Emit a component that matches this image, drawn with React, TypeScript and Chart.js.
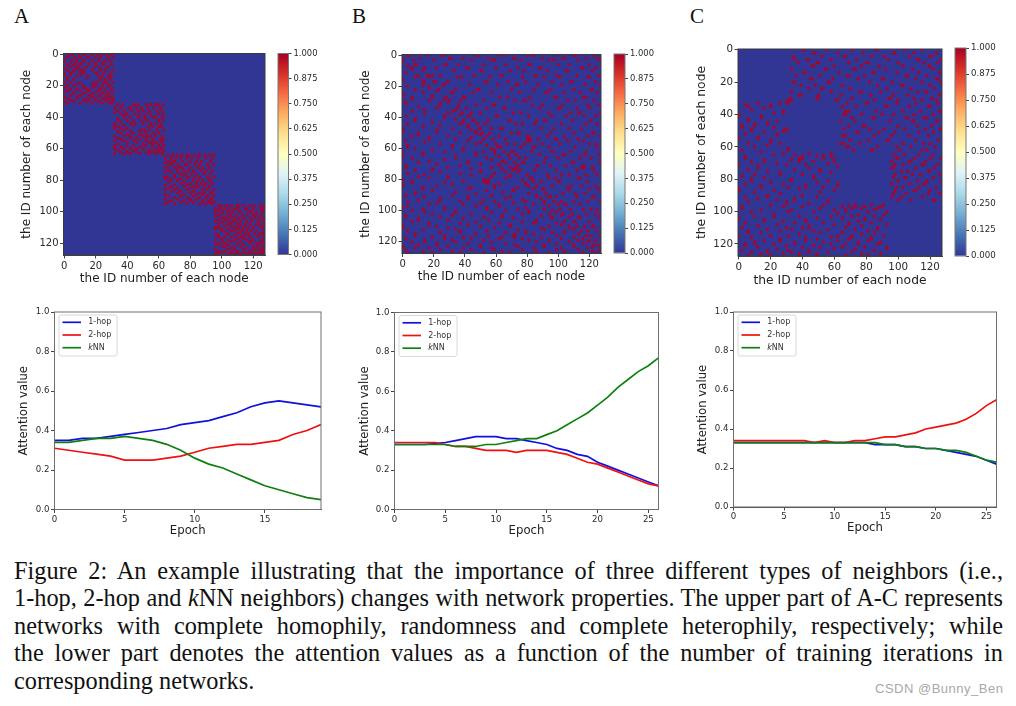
import React, { useEffect, useRef } from "react";
import { Chart, registerables } from "chart.js";

Chart.register(...registerables);

// ---------- heatmap data: [row, col, col, ...] for the upper triangle of each adjacency matrix
const heatRowsA: number[][] = [
  [0,3,5,9,12,13,18,21,24,27,30],[2,2,7,10,15,16,20,23,28,31],[4,5,8,12,13,18,22,26,29],[6,7,10,11,16,20,24,25,30],
  [8,9,14,19,22,27,28],[10,11,13,18,23,26,31],[12,12,20,21,25,29],[14,15,22,24,28,30],[16,23,26,29],[18,19,21,25,27,31],
  [20,20,24,28,29],[22,23,26,30],[24,25,28,31],[26,27,29],[28,29,31],[30,31],
  [32,34,37,44,46,47,52,55,58,60,63],[34,36,41,42,46,49,53,57,61],[36,38,43,47,50,54,59,62],[38,39,40,45,48,52,55,60,63],
  [40,42,47,51,56,58,62],[42,44,49,52,53,60,63],[44,45,50,55,58,61],[46,53,56,60,62],[48,49,51,54,59,63],[50,52,57,60],
  [52,53,55,58,62],[54,56,61,63],[56,57,59,62],[58,60,63],[60,61,62],[62,63],
  [64,66,69,72,75,78,79,83,86,89,92,95],[66,68,71,74,78,81,85,90,94],[68,69,70,75,80,84,87,93],[70,72,77,78,83,86,91,95],
  [72,73,75,80,85,88,92],[74,76,79,82,87,90,94],[76,77,81,84,89,93],[78,79,83,86,91,95],[80,82,85,88,92,93],[82,84,87,90,94],
  [84,85,89,92],[86,88,91,95],[88,89,93,94],[90,91,95],[92,93,94],[94,95],
  [96,98,100,103,106,110,111,114,118,121,124,127],[98,99,102,105,108,110,115,116,120,125,126],[100,101,104,107,111,112,117,119,122,126],
  [102,104,106,109,113,116,120,122,125],[104,105,108,111,114,118,121,124,127],[106,107,109,112,116,119,123,126],
  [108,110,112,115,118,122,124,127],[110,111,114,117,120,125,126],[112,113,116,119,122,127],[114,115,117,121,124,126],
  [116,118,123,127],[118,119,120,125,126],[120,122,124,127],[122,123,126],[124,125,127],[126,127],
];
const heatRowsB: number[][] = [
  [0,3,4,16,25,26,47,49,62,65,80,83,84,98,110,111,123],[2,11,30,31,39,55,71,72,90,103,104,118,125],[3,7,20,44,58,59,76,94,97,113,127],
  [6,8,9,27,28,36,52,66,81,82,100,107,120],[8,14,22,41,42,60,74,88,89,115,116,124],[10,13,33,50,51,69,78,93,105,106,122],
  [13,16,19,24,46,63,64,85,86,99,112,126],[14,17,35,38,56,77,91,101,119,120],[17,20,21,29,53,54,68,79,96,108,109,124],
  [19,26,27,43,61,73,74,87,102,117,127],[22,23,34,48,49,70,84,95,110,121,122],[24,31,32,45,57,75,92,93,104,114,125],
  [27,28,39,40,62,67,82,98,99,116,118],[29,30,37,52,72,78,79,106,111,123],[32,36,47,58,59,83,90,103,119,126],
  [34,35,41,54,65,66,88,100,101,112,120],[37,38,44,50,71,76,94,108,113,114,127],[39,42,43,60,61,81,96,105,117,124],
  [42,45,46,55,68,69,86,91,92,109,121],[44,48,53,73,77,85,102,118,125],[47,49,50,57,63,64,89,97,107,115],
  [50,51,56,70,74,75,95,110,122,123],[52,54,62,80,81,93,104,119,127],[54,58,66,81,82,87,98,99,113],[55,80,81,82,106,116],
  [57,60,67,72,78,90,101,120,124],[59,61,63,76,84,85,94,111,125],[62,65,70,71,83,96,97,108,118],[64,68,73,88,103,104,117,126],
  [66,69,75,79,92,100,114,121],[69,72,77,78,91,109,110,127],[71,74,86,87,95,105,116],[72,73,115,116,117,122],[74,75,85,99,112,123],
  [77,80,93,102,107,118,125],[79,82,83,94,98,113,114],[81,84,89,100,101,119],[84,86,96,108,115,124],[86,90,91,106,107,120,126],
  [89,92,103,111,117],[91,94,95,99,112,122,123],[94,97,102,110,119,127],[96,100,104,105,114],[99,101,108,116,121,125],
  [102,103,109,118,124],[104,107,113,114,126],[107,110,111,120],[110,112,117,122,123],[113,115,119,125],[116,118,121,127],
  [119,120,124],[122,123,126],[125,127],
];
const heatRowsC: number[][] = [
  [0,40,41,55,71,86,87,104,115],[2,47,48,62,78,97,98,110,124],[4,34,52,66,67,83,91,107,120,121],[6,35,43,44,58,74,94,112,113,127],
  [8,37,49,50,69,80,81,100,116,125],[10,46,47,60,77,88,103,119,120],[12,33,54,55,72,73,92,109,122],[14,41,42,63,84,85,99,113,126],
  [16,36,51,68,69,79,105,106,118],[18,45,46,59,75,90,91,111,124,125],[20,34,35,56,57,82,96,115,127],[22,39,48,65,87,102,103,120],
  [24,44,52,53,70,93,108,123],[26,33,58,76,77,89,112,117,118],[28,38,39,50,64,83,97,106,126],[30,32,49,50,71,94,95,110,121],
  [31,32,33,61,62,85,100,115,124],
  [33,68,80,81,99,111,125],[35,65,74,92,93,107,119,120],[38,67,68,69,86,103,114,126,127],[40,66,67,77,90,97,110,122],
  [42,71,84,85,105,106,116,118],[44,64,73,95,109,110,124,125],[47,69,78,79,100,112,121],[49,66,82,91,104,117,126,127],
  [51,74,75,88,98,113,122],[53,65,67,85,96,107,119],[56,70,81,93,94,111,125],[58,64,66,76,103,116,120],[60,68,69,87,99,108,123],
  [62,72,83,84,101,115,118],
  [65,97,104,113,122],[67,99,100,110,120,127],[69,96,107,108,117],[71,98,103,115,116,125],[73,96,97,111,123],[75,102,106,119,120],
  [77,98,109,114,126],[79,97,104,105,122],[81,100,112,118,127],[83,96,107,116,117],[85,99,103,113,124],[87,98,110,111,120],
  [89,97,105,119,126],[91,96,102,115],[93,100,108,122,123],
];
const heatTicks = [0, 20, 40, 60, 80, 100, 120];
const heatAxisTitle = "the ID number of each node";
const colorStops = ["#313695","#4575b4","#74add1","#abd9e9","#e0f3f8","#ffffbf","#fee090","#fdae61","#f46d43","#d73027","#a50026"];

// ---------- line chart data
const seriesNames = ["1-hop", "2-hop", "kNN"];
const seriesColors = ["#1010e0", "#f01010", "#0f800f"];
const hop1A = [.35,.35,.36,.36,.37,.38,.39,.40,.41,.43,.44,.45,.47,.49,.52,.54,.55,.54,.53,.52];
const hop2A = [.31,.30,.29,.28,.27,.25,.25,.25,.26,.27,.29,.31,.32,.33,.33,.34,.35,.38,.40,.43];
const knnA = [.34,.34,.35,.36,.36,.37,.36,.35,.33,.30,.26,.23,.21,.18,.15,.12,.10,.08,.06,.05];
const hop1B = [.33,.33,.33,.33,.335,.34,.35,.36,.37,.37,.37,.36,.36,.35,.34,.33,.31,.30,.28,.27,.24,.22,.20,.18,.16,.14,.12];
const hop2B = [.34,.34,.34,.34,.34,.33,.32,.32,.31,.30,.30,.30,.29,.30,.30,.30,.29,.28,.26,.24,.23,.21,.19,.17,.15,.13,.12];
const knnB = [.33,.33,.33,.33,.33,.33,.32,.32,.32,.33,.33,.34,.35,.36,.36,.38,.40,.43,.46,.49,.53,.57,.62,.66,.70,.73,.77];
const hop1C = [.33,.33,.33,.33,.33,.33,.33,.33,.33,.33,.33,.33,.33,.33,.32,.32,.32,.31,.31,.30,.30,.29,.28,.27,.26,.24,.22];
const hop2C = [.34,.34,.34,.34,.34,.34,.34,.34,.33,.34,.33,.33,.34,.34,.35,.36,.36,.37,.38,.40,.41,.42,.43,.45,.48,.52,.55];
const knnC = [.33,.33,.33,.33,.33,.33,.33,.33,.33,.33,.33,.33,.33,.33,.33,.32,.32,.31,.31,.30,.30,.29,.29,.28,.26,.24,.23];

const captionLines = [
  ["Figure 2: An example illustrating that the importance of three different types of neighbors (i.e.,"],
  ["1-hop, 2-hop and ", "k", "NN neighbors) changes with network properties. The upper part of A-C represents"],
  ["networks with complete homophily, randomness and complete heterophily, respectively; while"],
  ["the lower part denotes the attention values as a function of the number of training iterations in"],
  ["corresponding networks."],
];
const panelLetters = [["A", 14], ["B", 352], ["C", 690]] as const;

// ---------- helpers
const SANS = "'DejaVu Sans'";
type Box = { L: number; T: number; R: number; B: number; x0: number; y0: number; x1: number; y1: number };

const expand = (rows: number[][]) => {
  const pts: { x: number; y: number }[] = [];
  rows.forEach(([r, ...cols]) => cols.forEach((c) => {
    pts.push({ x: c, y: r });
    if (c !== r) pts.push({ x: r, y: c });
  }));
  return pts;
};

const framePlugin = (color: string) => ({
  id: "frame",
  afterDatasetsDraw(chart: any) {
    const { ctx, chartArea: a } = chart;
    ctx.save();
    ctx.strokeStyle = color;
    ctx.lineWidth = 1;
    ctx.strokeRect(a.left, a.top, a.width, a.height);
    ctx.restore();
  },
});

const basePlugin = {
  id: "zeroCells",
  beforeDatasetsDraw(chart: any) {
    const { ctx, chartArea: a } = chart;
    ctx.save();
    ctx.fillStyle = colorStops[0];
    ctx.fillRect(a.left, a.top, a.width, a.height);
    ctx.restore();
  },
};

const legendPlugin = {
  id: "lineLegend",
  afterDraw(chart: any) {
    const { ctx, chartArea: a } = chart;
    ctx.save();
    ctx.fillStyle = "rgba(255,255,255,0.85)";
    ctx.strokeStyle = "#d8d8d8";
    ctx.lineWidth = 1;
    ctx.beginPath();
    ctx.roundRect(a.left + 4.5, a.top + 3, 58, 41, 2);
    ctx.fill();
    ctx.stroke();
    chart.data.datasets.forEach((d: any, i: number) => {
      const y = a.top + 10.3 + i * 12.7;
      ctx.strokeStyle = d.borderColor;
      ctx.lineWidth = 1.7;
      ctx.beginPath();
      ctx.moveTo(a.left + 8, y);
      ctx.lineTo(a.left + 26.5, y);
      ctx.stroke();
      ctx.fillStyle = "#333";
      ctx.textBaseline = "middle";
      ctx.textAlign = "left";
      let x = a.left + 33.7;
      if (d.label === "kNN") {
        ctx.font = `italic 8px ${SANS}`;
        ctx.fillText("k", x, y);
        x += ctx.measureText("k").width;
        ctx.font = `8px ${SANS}`;
        ctx.fillText("NN", x, y);
      } else {
        ctx.font = `8px ${SANS}`;
        ctx.fillText(d.label, x, y);
      }
    });
    ctx.restore();
  },
};

const layoutOf = (b: Box) => ({ padding: { top: b.y0 - b.T, right: b.R - b.x1, left: 0, bottom: 0 } });
const fitY = (b: Box) => (s: any) => { s.width = b.x0 - b.L; };
const fitX = (b: Box) => (s: any) => { s.height = b.B - b.y1; };
const fixTicks = (list: number[]) => (s: any) => { s.ticks = list.map((value) => ({ value })); };

const axis = (fontSize: number, title: string, titleSize: number, list: number[]) => ({
  type: "linear",
  afterBuildTicks: fixTicks(list),
  grid: { drawOnChartArea: false, drawTicks: true, tickLength: 3.5, color: "#444" },
  border: { color: "#444" },
  ticks: { autoSkip: false, maxRotation: 0, minRotation: 0, padding: 1.5, color: "#2a2a2a", font: { family: SANS, size: fontSize }, callback: (v: any) => String(v) },
  title: { display: true, text: title, color: "#1e1e1e", padding: 0, font: { family: SANS, size: titleSize } },
});

const heatConfig = (rows: number[][], b: Box, tickSize: number, titleSize: number, r: number) => ({
  type: "scatter",
  data: {
    datasets: [{ label: "edge", data: expand(rows), pointStyle: "rect", pointRadius: r, pointBorderWidth: 0, backgroundColor: "#a5062c" }],
  },
  plugins: [basePlugin, framePlugin("#3a3a3a")],
  options: {
    animation: false, responsive: false, events: [],
    layout: layoutOf(b),
    plugins: { legend: { display: false }, tooltip: { enabled: false } },
    scales: {
      x: { ...axis(tickSize, heatAxisTitle, titleSize, heatTicks), min: -0.5, max: 127.5, afterFit: fitX(b) },
      y: { ...axis(tickSize, heatAxisTitle, titleSize, heatTicks), min: -0.5, max: 127.5, reverse: true, afterFit: fitY(b) },
    },
  },
});

const barConfig = (b: Box, size: number) => ({
  type: "bar",
  data: {
    labels: ["scale"],
    datasets: [{
      data: [[0, 1]],
      barPercentage: 1,
      categoryPercentage: 1,
      backgroundColor: ({ chart }: any) => {
        const a = chart.chartArea;
        if (!a) return colorStops[0];
        const g = chart.ctx.createLinearGradient(0, a.bottom, 0, a.top);
        colorStops.forEach((c, i) => g.addColorStop(i / (colorStops.length - 1), c));
        return g;
      },
    }],
  },
  plugins: [framePlugin("#777")],
  options: {
    animation: false, responsive: false, events: [],
    layout: { padding: { top: b.y0 - b.T, left: 1, right: 0, bottom: b.B - b.y1 } },
    plugins: { legend: { display: false }, tooltip: { enabled: false } },
    scales: {
      x: { display: false },
      y: {
        position: "right", min: 0, max: 1,
        afterBuildTicks: fixTicks([0, .125, .25, .375, .5, .625, .75, .875, 1]),
        afterFit: (s: any) => { s.width = b.R - b.x1; },
        grid: { drawOnChartArea: false, tickLength: 3, color: "#444" },
        border: { display: false },
        ticks: { padding: 2, autoSkip: false, color: "#2a2a2a", font: { family: SANS, size }, callback: (v: any) => Number(v).toFixed(3) },
      },
    },
  },
});

const lineConfig = (series: number[][], b: Box, last: number, xTicks: number[]) => ({
  type: "line",
  data: {
    labels: series[0].map((_, i) => i),
    datasets: series.map((vals, i) => ({
      label: seriesNames[i],
      data: vals.map((y, x) => ({ x, y })),
      borderColor: seriesColors[i],
      borderWidth: 1.7,
      pointRadius: 0,
      tension: 0,
      order: 3 - i,
    })),
  },
  plugins: [framePlugin("#6e6e6e"), legendPlugin],
  options: {
    animation: false, responsive: false, events: [],
    layout: layoutOf(b),
    plugins: { legend: { display: false }, tooltip: { enabled: false } },
    scales: {
      x: { ...axis(8.6, "Epoch", 11.7, xTicks), min: 0, max: last, afterFit: fitX(b) },
      y: {
        ...axis(8.6, "Attention value", 11.7, [0, .2, .4, .6, .8, 1]), min: 0, max: 1, afterFit: fitY(b),
        ticks: { ...axis(8.6, "", 11.7, []).ticks, callback: (v: any) => Number(v).toFixed(1) },
      },
    },
  },
});

// ---------- panel geometry (page pixels)
const heatBoxes: Box[] = [
  { L: 20, T: 46, R: 272, B: 286, x0: 63.5, y0: 53.5, x1: 265, y1: 255 },
  { L: 358.5, T: 46, R: 608, B: 284, x0: 401.5, y0: 54.5, x1: 601, y1: 253.5 },
  { L: 693.5, T: 41, R: 949, B: 288, x0: 737.5, y0: 49, x1: 942, y1: 256 },
];
const barBoxes: Box[] = [
  { L: 277, T: 46, R: 325, B: 262, x0: 278, y0: 53.5, x1: 288.5, y1: 254.5 },
  { L: 613, T: 46, R: 662, B: 261, x0: 614.3, y0: 54, x1: 625, y1: 253 },
  { L: 954, T: 40, R: 1008, B: 264, x0: 955.3, y0: 48, x1: 966, y1: 256 },
];
const lineBoxes: Box[] = [
  { L: 17, T: 304, R: 335, B: 538, x0: 54.5, y0: 312, x1: 321, y1: 509.5 },
  { L: 358, T: 304, R: 670, B: 538, x0: 394.5, y0: 312.5, x1: 658.5, y1: 509.5 },
  { L: 695.5, T: 304, R: 1008, B: 535, x0: 733, y0: 312, x1: 996.5, y1: 507 },
];
const ticksA = [0, 5, 10, 15];
const ticksBC = [0, 5, 10, 15, 20, 25];

const charts: { box: Box; config: any; blur: number }[] = [
  { box: heatBoxes[0], config: heatConfig(heatRowsA, heatBoxes[0], 10, 12, 2), blur: 0.45 },
  { box: heatBoxes[1], config: heatConfig(heatRowsB, heatBoxes[1], 10, 11.9, 2.05), blur: 0.45 },
  { box: heatBoxes[2], config: heatConfig(heatRowsC, heatBoxes[2], 10.3, 12.3, 2.1), blur: 0.45 },
  { box: barBoxes[0], config: barConfig(barBoxes[0], 8.4), blur: 0.3 },
  { box: barBoxes[1], config: barConfig(barBoxes[1], 8.4), blur: 0.3 },
  { box: barBoxes[2], config: barConfig(barBoxes[2], 8.6), blur: 0.3 },
  { box: lineBoxes[0], config: lineConfig([hop1A, hop2A, knnA], lineBoxes[0], 19, ticksA), blur: 0.35 },
  { box: lineBoxes[1], config: lineConfig([hop1B, hop2B, knnB], lineBoxes[1], 26, ticksBC), blur: 0.35 },
  { box: lineBoxes[2], config: lineConfig([hop1C, hop2C, knnC], lineBoxes[2], 26, ticksBC), blur: 0.35 },
];

function Panel({ box, config, blur }: { box: Box; config: any; blur: number }) {
  const ref = useRef<HTMLCanvasElement>(null);
  useEffect(() => {
    const chart = new Chart(ref.current as HTMLCanvasElement, config);
    return () => chart.destroy();
  }, [config]);
  return (
    <canvas
      ref={ref}
      width={box.R - box.L}
      height={box.B - box.T}
      style={{ position: "absolute", left: box.L, top: box.T, width: box.R - box.L, height: box.B - box.T, filter: `blur(${blur}px)` }}
    />
  );
}

const captionY = [557, 584, 612, 639, 667];

export default function App() {
  return (
    <div style={{ position: "fixed", left: 0, top: 0, width: 1016, height: 706, background: "#fff", overflow: "hidden" }}>
      {charts.map((c, i) => <Panel key={i} box={c.box} config={c.config} blur={c.blur} />)}
      {panelLetters.map(([t, x]) => (
        <div key={t} style={{ position: "absolute", left: x, top: 4, font: "21px 'Liberation Serif'", color: "#111" }}>{t}</div>
      ))}
      {captionLines.map((parts, i) => (
        <div
          key={i}
          style={{
            position: "absolute", left: 14, top: captionY[i], width: 989, whiteSpace: "nowrap",
            font: "24.3px/28px 'Liberation Serif'", color: "#111",
            textAlign: "justify", textAlignLast: i < 4 ? "justify" : "left",
          }}
        >
          {parts.map((p, j) => (p === "k" ? <i key={j}>k</i> : <span key={j}>{p}</span>))}
        </div>
      ))}
      <div style={{ position: "absolute", left: 875, top: 681, font: "13px 'Liberation Sans'", color: "#a8a8a8", letterSpacing: 0.5 }}>CSDN @Bunny_Ben</div>
    </div>
  );
}
